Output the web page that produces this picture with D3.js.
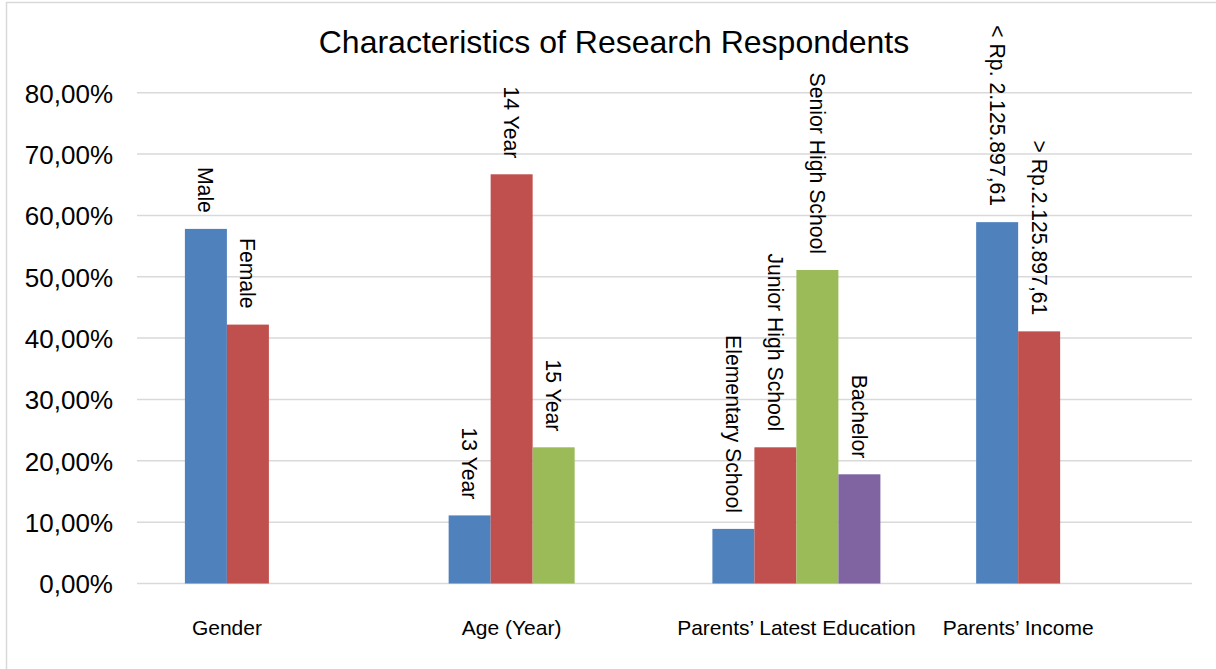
<!DOCTYPE html>
<html>
<head lang="en">
    <meta charset="UTF-8">
    <script src="https://cdn.jsdelivr.net/npm/d3@7"></script>
    <style>
        body { margin: 0; background: #fff; }
        svg { font-family: "Liberation Sans", Arial, sans-serif; }
    </style>
</head>
<body>
<svg width="1216" height="669"></svg>
<script>
    // chart values (percent)
    var groups = ['Gender', 'Age (Year)', 'Parents\u2019 Latest Education', 'Parents\u2019 Income'];
    var genderLabels = ['Male', 'Female'];
    var genderValues = [57.8, 42.2];
    var ageLabels = ['13 Year', '14 Year', '15 Year'];
    var ageValues = [11.1, 66.7, 22.2];
    var eduLabels = ['Elementary School', 'Junior High School', 'Senior High School', 'Bachelor'];
    var eduValues = [8.9, 22.2, 51.1, 17.8];
    var incomeLabels = ['< Rp. 2.125.897,61', '> Rp.2.125.897,61'];
    var incomeValues = [58.9, 41.1];
    var yTicks = [0, 10, 20, 30, 40, 50, 60, 70, 80];

    var colors = ['#4F81BD', '#C0504D', '#9BBB59', '#8064A2'];
    var grid = '#d9d9d9';

    var svg = d3.select('svg');

    // outer frame
    svg.append('rect')
        .attr('x', 6.5).attr('y', 2.5)
        .attr('width', 1230).attr('height', 700)
        .attr('fill', 'none').attr('stroke', grid).attr('stroke-width', 1.5);

    var sets = [
        {labels: genderLabels, values: genderValues},
        {labels: ageLabels, values: ageValues},
        {labels: eduLabels, values: eduValues},
        {labels: incomeLabels, values: incomeValues}
    ];
    var bars = [];
    sets.forEach(function (s, gi) {
        s.values.forEach(function (v, i) {
            bars.push({group: groups[gi], slot: i, label: s.labels[i], value: v});
        });
    });

    var x0 = d3.scaleBand().domain(groups).range([137, 1192]);
    var x1 = d3.scaleBand().domain([0, 1, 2, 3]).range([47.9, 215.9]);
    var y = d3.scaleLinear().domain([0, 80]).range([583.5, 92.7]);

    // gridlines
    svg.append('g').selectAll('line')
        .data(yTicks)
        .enter()
        .append('line')
        .attr('x1', 137).attr('x2', 1192)
        .attr('y1', function (d) { return y(d); })
        .attr('y2', function (d) { return y(d); })
        .attr('stroke', grid).attr('stroke-width', 1.5);

    // y axis labels
    var yAxis = d3.axisLeft(y).tickValues(yTicks).tickSize(0).tickPadding(0)
        .tickFormat(function (d) { return d3.format('.2f')(d).replace('.', ',') + '%'; });
    var ya = svg.append('g').attr('transform', 'translate(113,0)').call(yAxis);
    ya.select('.domain').remove();
    ya.selectAll('text')
        .attr('font-size', 26).attr('fill', '#000')
        .attr('font-family', '"Liberation Sans", Arial, sans-serif')
        .attr('dy', '0.36em');

    // bars
    svg.append('g').selectAll('rect')
        .data(bars)
        .enter()
        .append('rect')
        .attr('x', function (d) { return x0(d.group) + x1(d.slot); })
        .attr('y', function (d) { return y(d.value); })
        .attr('width', x1.bandwidth())
        .attr('height', function (d) { return y(0) - y(d.value); })
        .attr('fill', function (d) { return colors[d.slot]; });

    // rotated data labels
    svg.append('g').selectAll('text')
        .data(bars)
        .enter()
        .append('text')
        .attr('transform', function (d) {
            var cx = x0(d.group) + x1(d.slot) + x1.bandwidth() / 2;
            return 'translate(' + cx + ',' + (y(d.value) - 16) + ') rotate(90)';
        })
        .attr('text-anchor', 'end')
        .attr('dy', '0.36em')
        .attr('font-size', 21.2)
        .attr('fill', '#000')
        .text(function (d) { return d.label; });

    // category labels, centred under the bars actually drawn
    svg.append('g').selectAll('text')
        .data(sets)
        .enter()
        .append('text')
        .attr('x', function (s, gi) {
            return x0(groups[gi]) + x1(0) + s.values.length * x1.bandwidth() / 2;
        })
        .attr('y', 635)
        .attr('text-anchor', 'middle')
        .attr('font-size', 21)
        .attr('fill', '#000')
        .text(function (s, gi) { return groups[gi]; });

    // title
    svg.append('text')
        .attr('x', 614).attr('y', 53)
        .attr('text-anchor', 'middle')
        .attr('font-size', 32)
        .attr('fill', '#000')
        .text('Characteristics of Research Respondents');
</script>
</body>
</html>
